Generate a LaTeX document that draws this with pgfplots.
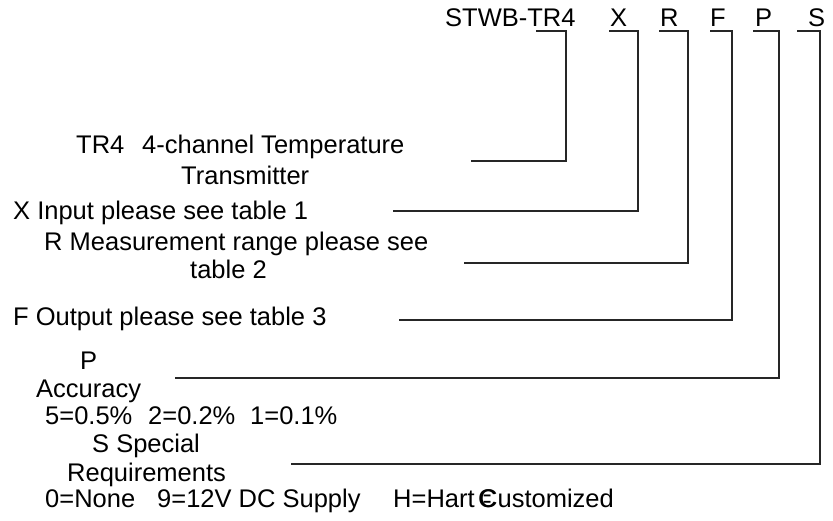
\documentclass[border=0pt]{standalone}
\usepackage{fontspec}
\setmainfont{Liberation Sans}
\usepackage{pgfplots}
\pgfplotsset{compat=1.18}
\begin{document}
\fontsize{25.5}{28}\selectfont
\begin{tikzpicture}
\begin{axis}[
  width=833pt, height=521pt, scale only axis,
  xmin=0, xmax=833, ymin=0, ymax=521, y dir=reverse,
  hide axis, clip=false,
  conn/.style={draw=black!85, no markers, solid, line width=1.3pt, line join=miter},
  nodes={inner sep=0pt, anchor=base west, font=\fontsize{25.5}{28}\selectfont}
]
\path (axis cs:0,0) rectangle (axis cs:833,521);
% connector lines
\addplot[conn] coordinates {(536,31) (566,31) (566,161) (471,161)};
\addplot[conn] coordinates {(609,31) (638,31) (638,211) (393,211)};
\addplot[conn] coordinates {(659,31) (688,31) (688,263) (464,263)};
\addplot[conn] coordinates {(710,31) (732,31) (732,320) (399,320)};
\addplot[conn] coordinates {(753,31) (779,31) (779,378) (175,378)};
\addplot[conn] coordinates {(797,31) (820,31) (820,464) (291,464)};
% top code
\node at (axis cs:445,27) {STWB-TR4};
\node at (axis cs:610,27) {X};
\node at (axis cs:660,27) {R};
\node at (axis cs:710,27) {F};
\node at (axis cs:755,27) {P};
\node at (axis cs:808,27) {S};
% descriptions
\node at (axis cs:76,154) {TR4};
\node at (axis cs:142,154) {4-channel Temperature};
\node at (axis cs:181,185) {Transmitter};
\node at (axis cs:13,220) {X Input please see table 1};
\node at (axis cs:44,251) {R Measurement range please see};
\node at (axis cs:190,279) {table 2};
\node at (axis cs:13,326) {F Output please see table 3};
\node at (axis cs:80,370) {P};
\node at (axis cs:36,398) {Accuracy};
\node at (axis cs:45,424) {5=0.5\%};
\node at (axis cs:148,424) {2=0.2\%};
\node at (axis cs:250,424) {1=0.1\%};
\node at (axis cs:92,452) {S Special};
\node at (axis cs:67,481) {Requirements};
\node at (axis cs:45,507) {0=None};
\node at (axis cs:157,507) {9=12V DC Supply};
\node at (axis cs:393,507) {H=Hart};
\node at (axis cs:478,507) {C};
\node at (axis cs:483,507) {\scalebox{0.55}[1]{=}};
\node at (axis cs:479,507) {Customized};
\end{axis}
\end{tikzpicture}
\end{document}
